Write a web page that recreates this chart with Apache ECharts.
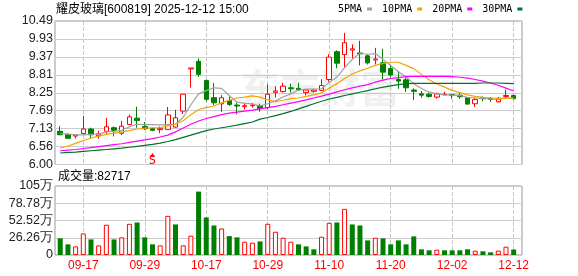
<!DOCTYPE html>
<html><head><meta charset="utf-8">
<script src="https://cdn.jsdelivr.net/npm/echarts@6/dist/echarts.min.js"></script>
<style>html,body{margin:0;padding:0;background:#fff}#c{width:578px;height:276px}</style>
</head><body><div id="c"></div>
<script>
const stockTitle = '耀皮玻璃[600819] 2025-12-12 15:00';
const dates = ['09-12','09-15','09-16','09-17','09-18','09-19','09-22','09-23','09-24','09-25','09-26','09-29','09-30',
 '10-09','10-10','10-13','10-14','10-15','10-16','10-17','10-20','10-21','10-22','10-23','10-24','10-27','10-28','10-29','10-30','10-31',
 '11-03','11-04','11-05','11-06','11-07','11-10','11-11','11-12','11-13','11-14','11-17','11-18','11-19','11-20','11-21','11-24','11-25','11-26','11-27','11-28',
 '12-01','12-02','12-03','12-04','12-05','12-08','12-09','12-10','12-11','12-12'];
const opens  = [7.04,6.94,6.89,6.97,7.11,6.90,7.04,7.15,6.98,7.25,7.45,7.19,7.12,7.09,7.10,7.17,7.67,8.99,9.23,8.63,8.09,7.90,8.00,7.86,7.81,7.84,7.84,7.78,8.26,8.28,8.40,8.38,8.25,8.29,8.32,8.66,9.53,9.44,9.58,9.49,9.40,9.27,9.18,9.00,8.66,8.65,8.33,8.21,8.20,8.11,8.18,8.19,8.17,8.09,7.90,8.09,8.07,7.96,8.13,8.16];
const closes = [6.93,6.82,6.92,7.11,6.93,6.96,7.18,7.07,7.20,7.49,7.38,7.12,7.07,7.12,7.55,7.46,8.20,9.02,8.82,8.04,7.93,8.09,7.88,7.83,7.84,7.86,7.75,8.20,8.30,8.45,8.37,8.34,8.33,8.33,8.47,9.36,9.17,9.81,9.62,9.46,9.18,9.30,8.89,8.80,8.61,8.40,8.29,8.17,8.13,8.21,8.20,8.17,8.12,7.89,8.03,8.06,8.04,8.07,8.16,8.06];
const lows   = [6.92,6.80,6.81,6.95,6.81,6.81,6.92,6.88,6.92,7.23,7.15,7.08,7.04,6.98,7.09,7.15,7.58,8.41,8.74,7.98,7.86,7.65,7.83,7.57,7.72,7.78,7.65,7.72,8.09,8.25,8.25,8.30,8.16,8.25,8.30,8.59,9.01,9.05,9.32,9.10,9.13,9.13,8.66,8.72,8.37,8.27,8.02,8.09,8.09,8.06,8.17,8.06,8.06,7.88,7.80,7.98,7.96,7.94,8.07,8.04];
const highs  = [7.20,6.98,6.94,7.52,7.15,7.06,7.46,7.19,7.36,7.56,7.81,7.33,7.15,7.19,7.80,7.71,8.20,9.02,9.32,8.66,8.55,8.17,8.13,7.93,7.93,7.93,7.90,8.51,8.45,8.56,8.53,8.56,8.36,8.37,8.67,9.45,9.57,10.12,9.76,9.87,9.45,9.65,9.62,9.10,8.92,8.71,8.38,8.30,8.25,8.25,8.28,8.21,8.23,8.09,8.09,8.13,8.11,8.11,8.34,8.19];
const volumes = [253400,162100,131200,328300,237500,146200,460100,237300,268400,475200,495300,268100,162400,146500,596200,465400,146300,293100,965200,571400,449300,404100,288200,268300,202100,187400,207200,475300,354100,263400,202300,162200,131300,86400,278200,490100,495400,702300,465100,449200,222300,263100,253200,162300,222100,162400,283200,86100,71300,81200,71100,71400,71200,86300,66100,56200,40300,66400,126200,82717];
const volUp = [0,0,1,1,0,1,1,0,1,1,0,0,0,1,1,0,1,1,0,0,0,1,0,0,1,1,0,1,1,1,1,0,0,0,1,1,0,1,0,0,0,1,0,0,0,0,0,0,0,1,0,0,0,0,1,0,0,1,1,0];
const ma5  = [6.97,6.95,6.93,6.93,6.94,6.95,7.02,7.04,7.07,7.18,7.26,7.25,7.25,7.24,7.25,7.26,7.48,7.87,8.21,8.31,8.40,8.38,8.15,7.95,7.91,7.90,7.83,7.90,7.99,8.11,8.21,8.33,8.36,8.36,8.37,8.57,8.73,9.03,9.29,9.48,9.45,9.47,9.29,9.10,8.90,8.74,8.53,8.38,8.27,8.21,8.18,8.17,8.16,8.10,8.08,8.06,8.05,8.04,8.08,8.08];
const ma10 = [6.52,6.58,6.66,6.75,6.83,6.89,6.94,6.98,7.02,7.06,7.11,7.14,7.15,7.15,7.21,7.26,7.37,7.56,7.72,7.78,7.83,7.93,8.01,8.08,8.11,8.15,8.11,8.02,7.97,8.01,8.06,8.08,8.13,8.18,8.24,8.39,8.53,8.69,8.83,8.93,9.01,9.10,9.16,9.20,9.20,9.10,9.00,8.82,8.65,8.52,8.42,8.32,8.25,8.18,8.13,8.10,8.08,8.07,8.08,8.07];
const ma20 = [6.43,6.45,6.47,6.50,6.53,6.56,6.59,6.62,6.65,6.69,6.73,6.77,6.81,6.86,6.92,7.02,7.14,7.26,7.36,7.44,7.50,7.56,7.61,7.64,7.67,7.70,7.74,7.78,7.82,7.87,7.92,7.97,8.02,8.08,8.14,8.20,8.27,8.34,8.40,8.45,8.50,8.58,8.64,8.69,8.72,8.75,8.76,8.76,8.76,8.76,8.76,8.75,8.73,8.70,8.66,8.61,8.55,8.48,8.39,8.30];
const ma30 = [6.36,6.38,6.39,6.41,6.43,6.45,6.47,6.49,6.51,6.54,6.57,6.60,6.63,6.67,6.72,6.78,6.85,6.92,6.99,7.06,7.11,7.15,7.19,7.23,7.28,7.33,7.42,7.47,7.53,7.59,7.66,7.74,7.82,7.90,7.98,8.05,8.10,8.16,8.21,8.26,8.31,8.37,8.42,8.46,8.50,8.53,8.54,8.54,8.54,8.54,8.54,8.54,8.54,8.54,8.54,8.55,8.55,8.55,8.54,8.53];
const maNames = ['5PMA','10PMA','20PMA','30PMA'];
const priceTicks = ['6.00','6.56','7.13','7.69','8.25','8.81','9.37','9.93','10.49'];
const volTicks = ['0','26.26万','52.52万','78.78万','105万'];
const labelDates = ['09-17','09-29','10-17','10-29','11-10','11-20','12-02','12-12'];
const priceMin = 6.00, priceMax = 10.49, volMax = 1050400;
const signalDate = '09-30', signalText = 'S';

const RED = '#ff0000', GREEN = '#008000';
const maColors = ['#a0a0a0', '#f5a300', '#ff00ff', '#007030'];
const isLabel = (i) => labelDates.indexOf(dates[i]) >= 0;
const axLabelFont = {fontFamily: 'Liberation Sans, Arial, sans-serif', fontSize: 12.5, color: '#222'};

const bandLeft = 56.4, bandRight = 60.5;
const bandW = (578 - bandLeft - bandRight) / dates.length;
const centreLeft = bandLeft + bandW / 2, centreRight = bandRight + bandW / 2;

const chart = echarts.init(document.getElementById('c'), null, {renderer: 'canvas'});
const candleData = dates.map((d, i) => [opens[i], closes[i], lows[i], highs[i]]);
const volData = volumes.map((v, i) => volUp[i]
  ? {value: v, itemStyle: {color: '#ffffff', borderColor: RED, borderWidth: 1}}
  : {value: v, itemStyle: {color: GREEN, borderColor: GREEN, borderWidth: 0}});
const dashAxis = (gi) => ({type: 'category', gridIndex: gi, data: dates, boundaryGap: false,
  axisLine: {show: false}, axisTick: {show: false}, axisLabel: {show: false},
  splitLine: {show: true, interval: isLabel, lineStyle: {color: '#c4c4c4', type: 'dashed', width: 1}}});

const option = {
  animation: false,
  backgroundColor: '#ffffff',
  title: [
    {text: stockTitle, left: 56, top: 4, padding: 0,
     textStyle: {fontFamily: 'Liberation Sans, Noto Sans CJK SC, sans-serif', fontSize: 12, fontWeight: 'normal', color: '#000'}},
    {text: '成交量:' + volumes[volumes.length - 1], left: 58, top: 171, padding: 0,
     textStyle: {fontFamily: 'Liberation Sans, Noto Sans CJK SC, sans-serif', fontSize: 12, fontWeight: 'normal', color: '#000'}}
  ],
  legend: {
    data: maNames, left: 338, top: 4, padding: 0, icon: 'rect', itemWidth: 5, itemHeight: 3, itemGap: 10,
    align: 'right', selectedMode: false,
    textStyle: {fontFamily: 'DejaVu Sans Mono, monospace', fontSize: 10, color: '#000'}
  },
  graphic: [{type: 'text', left: 240, top: 68, z: -1, silent: true,
    style: {text: '东方财富', fontSize: 40, fontWeight: 'bold', fontFamily: 'Noto Sans CJK SC', fill: 'rgba(0,0,0,0.06)'}}],
  grid: [
    {left: 55, right: 56, top: 21, height: 143.5, show: true, borderColor: '#999', borderWidth: 1},
    {left: bandLeft, right: bandRight, top: 21, height: 143.5},
    {left: 55, right: 56, top: 186, height: 69, show: true, borderColor: '#999', borderWidth: 1},
    {left: bandLeft, right: bandRight, top: 186, height: 69},
    {left: centreLeft, right: centreRight, top: 21, height: 143.5},
    {left: centreLeft, right: centreRight, top: 186, height: 69}
  ],
  xAxis: [
    {type: 'value', gridIndex: 0, show: false, min: 0, max: 1},
    {type: 'category', gridIndex: 1, data: dates, boundaryGap: true,
     axisLine: {show: false}, axisTick: {show: false}, axisLabel: {show: false}, splitLine: {show: false}},
    {type: 'value', gridIndex: 2, show: false, min: 0, max: 1},
    {type: 'category', gridIndex: 3, data: dates, boundaryGap: true,
     axisLine: {show: false}, axisTick: {show: false},
     axisLabel: {show: true, interval: isLabel, color: RED, fontFamily: 'Liberation Sans, Arial, sans-serif', fontSize: 12, margin: 5},
     splitLine: {show: false}},
    dashAxis(4),
    dashAxis(5)
  ],
  yAxis: [
    {type: 'value', gridIndex: 0, min: 0, max: priceTicks.length - 1, interval: 1,
     axisLine: {show: false}, axisTick: {show: false},
     axisLabel: Object.assign({formatter: v => priceTicks[v], margin: 2}, axLabelFont),
     splitLine: {lineStyle: {color: '#cccccc', width: 1}}},
    {type: 'value', gridIndex: 1, min: priceMin, max: priceMax, show: false, splitLine: {show: false}},
    {type: 'value', gridIndex: 2, min: 0, max: volTicks.length - 1, interval: 1,
     axisLine: {show: false}, axisTick: {show: false},
     axisLabel: Object.assign({formatter: v => volTicks[v], margin: 2}, axLabelFont),
     splitLine: {lineStyle: {color: '#cccccc', width: 1}}},
    {type: 'value', gridIndex: 3, min: 0, max: volMax, show: false, splitLine: {show: false}},
    {type: 'value', gridIndex: 4, min: 0, max: 1, show: false},
    {type: 'value', gridIndex: 5, min: 0, max: 1, show: false}
  ],
  series: [
    {type: 'candlestick', name: 'K', xAxisIndex: 1, yAxisIndex: 1, data: candleData, barWidth: 5, z: 2,
     itemStyle: {color: '#ffffff', color0: GREEN, borderColor: RED, borderColor0: GREEN, borderWidth: 1},
     markPoint: {silent: true, animation: false, data: [
       {coord: [signalDate, priceMin + 0.12], symbol: 'rect', symbolSize: [1, 1], itemStyle: {color: 'rgba(0,0,0,0)'},
        label: {show: true, formatter: signalText, color: RED, fontSize: 12, fontFamily: 'DejaVu Sans Mono, monospace', position: 'inside'}},
       {coord: [signalDate, priceMin + 0.30], symbol: 'triangle', symbolSize: [5, 4], itemStyle: {color: RED}, label: {show: false}}
     ]}},
    ...[ma5, ma10, ma20, ma30].map((arr, k) => ({
      type: 'line', name: maNames[k], xAxisIndex: 1, yAxisIndex: 1, data: arr, showSymbol: false, symbol: 'none',
      color: maColors[k], lineStyle: {color: maColors[k], width: 1.2}, z: 3, silent: true
    })),
    {type: 'bar', name: 'VOL', xAxisIndex: 3, yAxisIndex: 3, data: volData, barWidth: 5, silent: true, z: 2}
  ]
};
chart.setOption(option);
</script></body></html>
